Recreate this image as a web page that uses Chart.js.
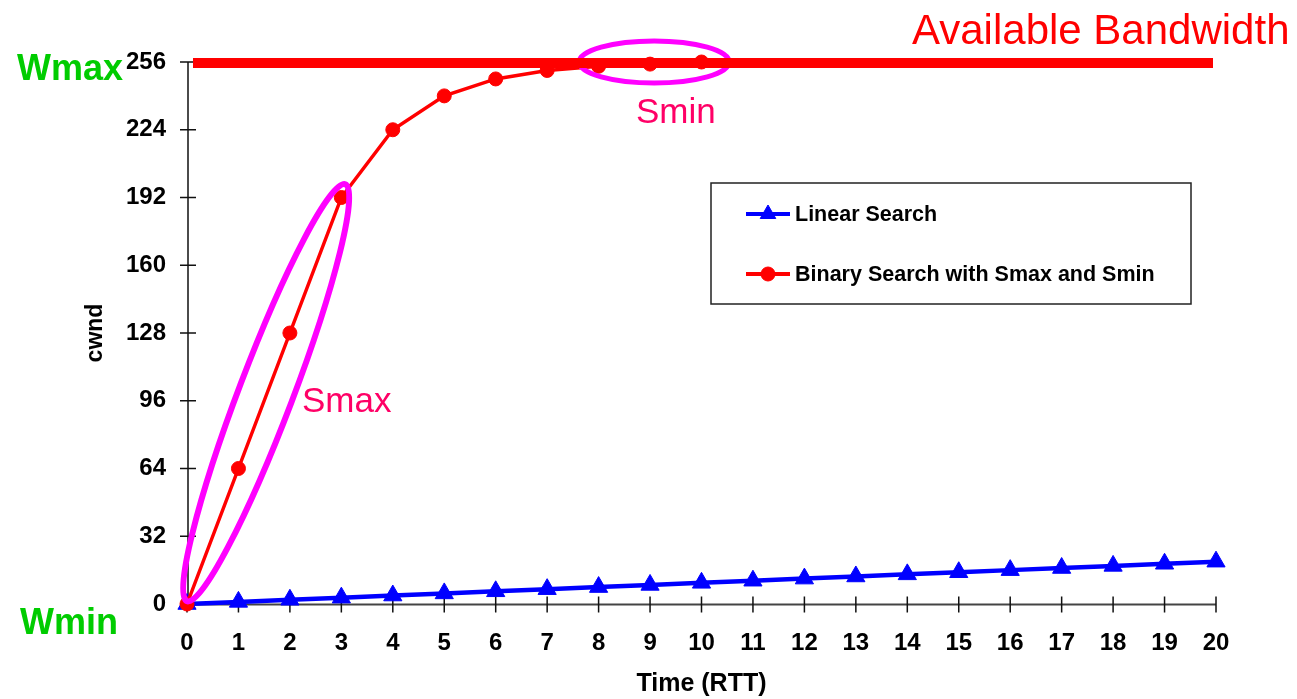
<!DOCTYPE html>
<html>
<head>
<meta charset="utf-8">
<script src="https://cdn.jsdelivr.net/npm/chart.js@4/dist/chart.umd.min.js"></script>
<style>
  html, body { margin: 0; padding: 0; background: #fff; }
  #wrap { width: 1297px; height: 699px; position: relative; }
</style>
</head>
<body>
<div id="wrap"><canvas id="c" width="1297" height="699"></canvas></div>
<script>
// Time axis (RTT) and cwnd axis ticks
const timeTicks = [0, 1, 2, 3, 4, 5, 6, 7, 8, 9, 10, 11, 12, 13, 14, 15, 16, 17, 18, 19, 20];
const cwndTicks = [0, 32, 64, 96, 128, 160, 192, 224, 256];

// cwnd per RTT for each search strategy
const linearSearch = [0, 1, 2, 3, 4, 5, 6, 7, 8, 9, 10, 11, 12, 13, 14, 15, 16, 17, 18, 19, 20];
const binarySearch = [0, 64, 128, 192, 224, 240, 248, 252, 254, 255, 256];

// Bandwidth ceiling
const availableBandwidth = 256;
const seriesNames = ['Linear Search', 'Binary Search with Smax and Smin'];

const FONT = "'Liberation Sans', Arial, sans-serif";
const BLUE = '#0000FF';
const RED = '#FF0000';
const MAGENTA = '#FF00FF';
const PINK = '#FF0066';
const GREEN = '#00CC00';

const toPoints = (vals) => vals.map((v, i) => ({ x: timeTicks[i], y: v }));

const overlay = {
  id: 'overlay',
  beforeDatasetsDraw(chart) {
    const ctx = chart.ctx;
    const xs = chart.scales.x, ys = chart.scales.y;
    const a = chart.chartArea;
    ctx.save();
    // y axis with crossing ticks
    ctx.strokeStyle = '#111';
    ctx.lineWidth = 1.5;
    ctx.beginPath();
    ctx.moveTo(a.left + 1, ys.getPixelForValue(256));
    ctx.lineTo(a.left + 1, ys.getPixelForValue(0));
    cwndTicks.forEach(v => {
      const y = ys.getPixelForValue(v);
      ctx.moveTo(a.left - 7, y);
      ctx.lineTo(a.left + 9, y);
    });
    ctx.stroke();
    // x axis with crossing ticks
    ctx.strokeStyle = '#444';
    ctx.lineWidth = 2;
    ctx.beginPath();
    const y0 = ys.getPixelForValue(0) + 0.5;
    ctx.moveTo(xs.getPixelForValue(0), y0);
    ctx.lineTo(xs.getPixelForValue(20), y0);
    ctx.stroke();
    ctx.strokeStyle = '#111';
    ctx.lineWidth = 1.5;
    ctx.beginPath();
    timeTicks.forEach(t => {
      const x = xs.getPixelForValue(t);
      ctx.moveTo(x, y0 - 8);
      ctx.lineTo(x, y0 + 8);
    });
    ctx.stroke();
    ctx.restore();
  },
  afterDatasetsDraw(chart) {
    const ctx = chart.ctx;
    const xs = chart.scales.x, ys = chart.scales.y;
    const a = chart.chartArea;
    ctx.save();

    // Smin ring around the converging points
    ctx.strokeStyle = MAGENTA;
    ctx.lineWidth = 5;
    ctx.beginPath();
    ctx.ellipse(xs.getPixelForValue(9.08), ys.getPixelForValue(availableBandwidth), 75, 21, 0, 0, Math.PI * 2);
    ctx.stroke();

    // Available bandwidth bar
    const yb = ys.getPixelForValue(availableBandwidth) + 1;
    ctx.strokeStyle = RED;
    ctx.lineWidth = 10;
    ctx.beginPath();
    ctx.moveTo(a.left + 6, yb);
    ctx.lineTo(a.right - 3, yb);
    ctx.stroke();

    // Smax ring around the first doubling steps
    const p0x = xs.getPixelForValue(0), p0y = ys.getPixelForValue(0);
    const p3x = xs.getPixelForValue(3), p3y = ys.getPixelForValue(192);
    const ang = Math.atan2(p3y - p0y, p3x - p0x);
    const cx = (p0x + p3x) / 2 + 2, cy = (p0y + p3y) / 2 - 8;
    ctx.strokeStyle = MAGENTA;
    ctx.lineWidth = 6;
    ctx.beginPath();
    ctx.ellipse(cx, cy, 223, 27, ang, 0, Math.PI * 2);
    ctx.stroke();

    // Annotations
    ctx.textBaseline = 'alphabetic';
    ctx.fillStyle = PINK;
    ctx.font = `35px ${FONT}`;
    ctx.textAlign = 'left';
    ctx.fillText('Smin', 636, 123);
    ctx.fillText('Smax', 302, 412);

    ctx.fillStyle = RED;
    ctx.font = `42px ${FONT}`;
    ctx.fillText('Available Bandwidth', 912, 44);

    ctx.fillStyle = GREEN;
    ctx.font = `bold 36px ${FONT}`;
    ctx.textAlign = 'right';
    ctx.fillText('Wmax', 123, 80);
    ctx.textAlign = 'left';
    ctx.fillText('Wmin', 20, 634);

    // Legend box
    ctx.strokeStyle = '#222';
    ctx.lineWidth = 1.5;
    ctx.strokeRect(711, 183, 480, 121);
    const rows = [
      { name: seriesNames[0], color: BLUE, style: 'triangle', y: 214, r: 9 },
      { name: seriesNames[1], color: RED, style: 'circle', y: 274, r: 7 }
    ];
    rows.forEach(row => {
      ctx.strokeStyle = row.color;
      ctx.lineWidth = 4;
      ctx.beginPath();
      ctx.moveTo(746, row.y);
      ctx.lineTo(790, row.y);
      ctx.stroke();
      ctx.fillStyle = row.color;
      ctx.strokeStyle = row.color;
      ctx.lineWidth = 1;
      Chart.helpers.drawPoint(ctx, { pointStyle: row.style, radius: row.r, borderWidth: 1 }, 768, row.y);
      ctx.fillStyle = '#000';
      ctx.font = `bold 21.5px ${FONT}`;
      ctx.textAlign = 'left';
      ctx.textBaseline = 'middle';
      ctx.fillText(row.name, 795, row.y + 1);
    });

    ctx.restore();
  }
};

new Chart(document.getElementById('c'), {
  type: 'line',
  data: {
    datasets: [
      {
        label: seriesNames[0],
        data: toPoints(linearSearch),
        borderColor: BLUE,
        backgroundColor: BLUE,
        borderWidth: 4.5,
        pointStyle: 'triangle',
        pointRadius: 10.5,
        pointBorderWidth: 1,
        clip: false,
        order: 1
      },
      {
        label: seriesNames[1],
        data: toPoints(binarySearch),
        borderColor: RED,
        backgroundColor: RED,
        borderWidth: 3.5,
        pointStyle: 'circle',
        pointRadius: 7,
        pointBorderWidth: 1,
        clip: false,
        order: 0
      }
    ]
  },
  options: {
    responsive: false,
    animation: false,
    events: [],
    layout: { padding: { left: 0, right: 81, top: 62, bottom: 0 } },
    plugins: {
      legend: { display: false },
      tooltip: { enabled: false }
    },
    scales: {
      x: {
        type: 'linear',
        min: 0,
        max: 20,
        afterBuildTicks: s => { s.ticks = timeTicks.map(v => ({ value: v })); },
        afterFit: s => { s.height = 95; },
        grid: { display: false, drawTicks: false },
        border: { display: false },
        ticks: {
          color: '#000',
          padding: 25,
          maxRotation: 0,
          autoSkip: false,
          font: { family: FONT, size: 24, weight: 'bold' }
        },
        title: {
          display: true,
          text: 'Time (RTT)',
          color: '#000',
          padding: { top: 0, bottom: 0 },
          font: { family: FONT, size: 25, weight: 'bold' }
        }
      },
      y: {
        type: 'linear',
        min: 0,
        max: 256,
        afterBuildTicks: s => { s.ticks = cwndTicks.map(v => ({ value: v })); },
        afterFit: s => { s.width = 187; },
        grid: { display: false, drawTicks: false },
        border: { display: false },
        ticks: {
          color: '#000',
          padding: 21,
          autoSkip: false,
          font: { family: FONT, size: 24, weight: 'bold' }
        },
        title: {
          display: true,
          text: 'cwnd',
          color: '#000',
          padding: { top: 82, bottom: 0 },
          font: { family: FONT, size: 23, weight: 'bold' }
        }
      }
    }
  },
  plugins: [overlay]
});
</script>
</body>
</html>
